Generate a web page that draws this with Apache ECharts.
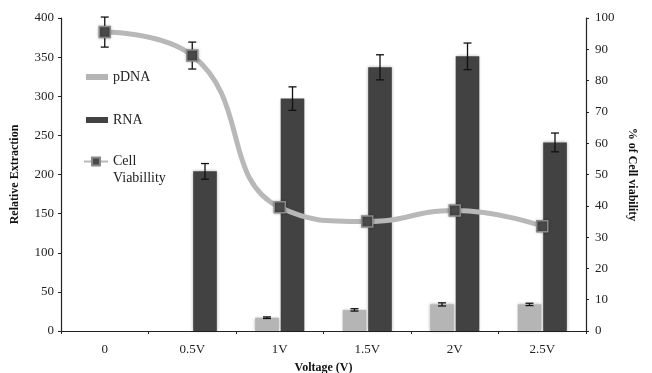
<!DOCTYPE html>
<html>
<head>
<meta charset="utf-8">
<script src="https://cdn.jsdelivr.net/npm/echarts@6/dist/echarts.min.js"></script>
<style>
  html, body { margin: 0; padding: 0; background: #fff; }
  #chart { width: 652px; height: 373px; }
</style>
</head>
<body>
<div id="chart"></div>
<script>
// data
var categories = ['0', '0.5V', '1V', '1.5V', '2V', '2.5V'];
var pdna = ['-', '-', 17, 27, 34, 34];
var pdnaErr = [0, 0, 1, 1.5, 2, 1.5];
var rna = ['-', 204, 297, 337, 351, 241];
var rnaErr = [0, 10, 15, 16, 17, 12];
var viability = [95.5, 88, 39.5, 35, 38.5, 33.5];
var viabilityErr = [4.8, 4.3, 1.5, 1, 1, 1];

var FONT = 'Liberation Serif';
var BAR_W = 0.27, BAR_GAP = 0.08;
var barOffset = (BAR_W + BAR_W * BAR_GAP) / 2;

function errData(vals, errs) {
  var res = [];
  for (var i = 0; i < vals.length; i++) {
    if (vals[i] === '-' || !errs[i]) continue;
    res.push([i, vals[i], errs[i]]);
  }
  return res;
}

function errRender(offset) {
  return function (params, api) {
    var idx = api.value(0), val = api.value(1), err = api.value(2);
    var band = api.size([1, 0])[0];
    var top = api.coord([idx, val + err]);
    var bot = api.coord([idx, val - err]);
    var x = top[0] + offset * band;
    var cap = 4;
    var st = { stroke: '#111', lineWidth: 1.3 };
    return {
      type: 'group',
      children: [
        { type: 'line', shape: { x1: x, y1: top[1], x2: x, y2: bot[1] }, style: st },
        { type: 'line', shape: { x1: x - cap, y1: top[1], x2: x + cap, y2: top[1] }, style: st },
        { type: 'line', shape: { x1: x - cap, y1: bot[1], x2: x + cap, y2: bot[1] }, style: st }
      ]
    };
  };
}

var chart = echarts.init(document.getElementById('chart'));

var axisLine = { show: true, lineStyle: { color: '#222', width: 1.2 } };
var axisTick = { show: true, length: 3, lineStyle: { color: '#222' } };
var labelStyle = { fontFamily: FONT, fontSize: 13, color: '#222' };
var nameStyle = { fontFamily: FONT, fontSize: 12, fontWeight: 'bold', color: '#111' };

chart.setOption({
  animation: false,
  grid: { left: 61, right: 66, top: 18, bottom: 42, outerBoundsMode: 'none', containLabel: false },
  legend: [{
    orient: 'vertical',
    left: 86, top: 69,
    padding: 0,
    itemGap: 27,
    itemWidth: 22, itemHeight: 6,
    textStyle: { fontFamily: FONT, fontSize: 14, color: '#222', lineHeight: 16 },
    data: [{ name: 'pDNA', icon: 'rect' }, { name: 'RNA', icon: 'rect' }]
  }, {
    orient: 'vertical',
    left: 83, top: 136,
    padding: 0,
    itemWidth: 24, itemHeight: 10,
    textStyle: { fontFamily: FONT, fontSize: 14, color: '#222', lineHeight: 17 },
    formatter: function () { return ' \nCell\nViabillity'; },
    data: ['Cell Viabillity']
  }],
  xAxis: {
    type: 'category',
    data: categories,
    name: 'Voltage (V)',
    nameLocation: 'middle',
    nameGap: 31,
    nameTextStyle: nameStyle,
    axisLine: axisLine,
    axisTick: axisTick,
    axisLabel: { fontFamily: FONT, fontSize: 13, color: '#222', margin: 12 },
    splitLine: { show: false }
  },
  yAxis: [{
    type: 'value',
    min: 0, max: 400, interval: 50,
    name: 'Relative Extraction',
    nameLocation: 'middle',
    nameGap: 40,
    nameTextStyle: nameStyle,
    axisLine: axisLine,
    axisTick: axisTick,
    axisLabel: Object.assign({ margin: 7 }, labelStyle),
    splitLine: { show: false }
  }, {
    type: 'value',
    position: 'right',
    min: 0, max: 100, interval: 10,
    name: '% of Cell viability',
    nameLocation: 'middle',
    nameRotate: -90,
    nameGap: 40,
    nameTextStyle: nameStyle,
    axisLine: axisLine,
    axisTick: axisTick,
    axisLabel: Object.assign({ margin: 9 }, labelStyle),
    splitLine: { show: false }
  }],
  series: [{
    name: 'pDNA',
    type: 'bar',
    data: pdna,
    barWidth: (BAR_W * 100) + '%',
    barGap: (BAR_GAP * 100) + '%',
    itemStyle: { color: '#b5b5b5', shadowColor: 'rgba(0,0,0,0.3)', shadowBlur: 3 }
  }, {
    name: 'RNA',
    type: 'bar',
    data: rna,
    barWidth: (BAR_W * 100) + '%',
    barGap: (BAR_GAP * 100) + '%',
    itemStyle: { color: '#424242', shadowColor: 'rgba(0,0,0,0.3)', shadowBlur: 3 }
  }, {
    name: 'pDNA err',
    type: 'custom',
    renderItem: errRender(-barOffset),
    data: errData(pdna, pdnaErr),
    z: 5
  }, {
    name: 'RNA err',
    type: 'custom',
    renderItem: errRender(barOffset),
    data: errData(rna, rnaErr),
    z: 5
  }, {
    name: 'Viability err',
    type: 'custom',
    yAxisIndex: 1,
    renderItem: errRender(0),
    data: errData(viability, viabilityErr),
    z: 6
  }, {
    name: 'Cell Viabillity',
    type: 'line',
    yAxisIndex: 1,
    data: viability,
    smooth: 0.5,
    symbol: 'rect',
    symbolSize: 11,
    lineStyle: { color: '#b8b8b8', width: 5 },
    itemStyle: { color: '#4a4a4a', borderColor: '#8a8a8a', borderWidth: 1.5, shadowColor: 'rgba(0,0,0,0.3)', shadowBlur: 3 },
    z: 7
  }]
});
</script>
</body>
</html>
